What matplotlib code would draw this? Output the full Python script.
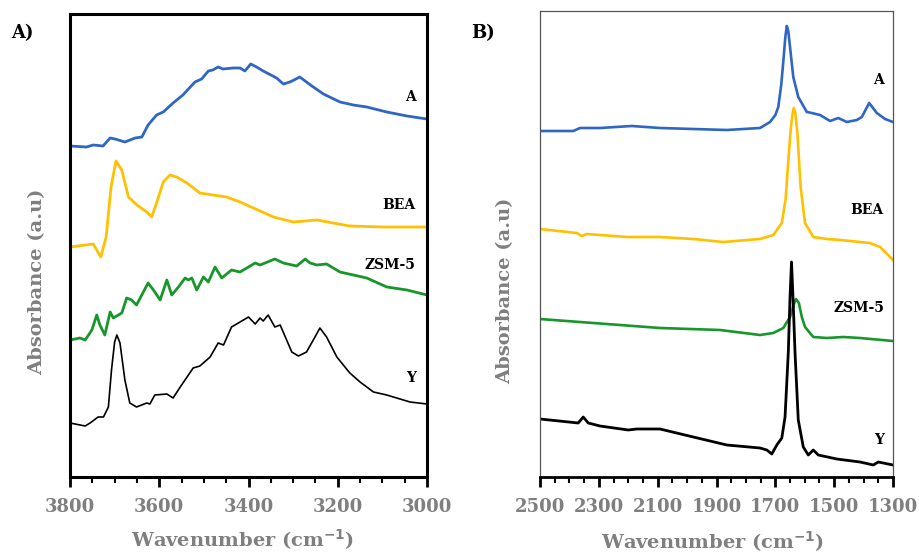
import numpy as np
import matplotlib
matplotlib.use("Agg")
import matplotlib.pyplot as plt
from matplotlib.ticker import FixedLocator

plt.rcParams['font.family'] = ['DejaVu Serif']

# ---- panel A data (3800-3000 cm-1), offset absorbance in a.u.
wnA_A = [3800, 3763, 3748, 3726, 3710, 3699, 3677, 3654, 3639, 3625, 3606, 3591, 3569, 3547, 3520,
         3505, 3490, 3480, 3468, 3457, 3435, 3419, 3408, 3395, 3382, 3367, 3337, 3322, 3307, 3285,
         3258, 3232, 3195, 3165, 3135, 3090, 3045, 3000]
absA_A = [331, 330, 332, 331, 339, 338, 335, 339, 340, 352, 362, 365, 374, 382, 395,
          398, 406, 407, 410, 408, 409, 409, 406, 413, 410, 406, 399, 393, 395, 400,
          391, 383, 375, 372, 370, 365, 361, 358]

wnA_BEA = [3800, 3748, 3731, 3719, 3708, 3697, 3684, 3669, 3650, 3628, 3617, 3606, 3591, 3576, 3561,
           3538, 3509, 3479, 3449, 3419, 3389, 3344, 3300, 3247, 3210, 3173, 3098, 3000]
absA_BEA = [230, 233, 220, 240, 290, 316, 307, 280, 272, 265, 260, 274, 295, 302, 300,
            294, 284, 282, 280, 275, 269, 260, 255, 257, 254, 251, 250, 250]

wnA_ZSM = [3800, 3778, 3766, 3751, 3740, 3733, 3722, 3710, 3703, 3684, 3673, 3662, 3651, 3625, 3613,
           3598, 3583, 3572, 3557, 3542, 3535, 3527, 3516, 3501, 3490, 3475, 3460, 3438, 3419, 3400,
           3385, 3374, 3363, 3341, 3322, 3292, 3273, 3262, 3247, 3225, 3195, 3165, 3135, 3090, 3045, 3000]
absA_ZSM = [137, 139, 137, 147, 162, 152, 142, 165, 159, 164, 179, 177, 172, 194, 187,
            177, 197, 182, 190, 199, 197, 199, 187, 200, 195, 210, 199, 207, 205, 210,
            214, 212, 214, 218, 214, 211, 218, 214, 212, 213, 205, 202, 199, 190, 187, 182]

wnA_Y = [3800, 3766, 3755, 3737, 3725, 3714, 3707, 3700, 3695, 3688, 3677, 3666, 3651, 3628, 3621, 3610,
         3583, 3569, 3553, 3524, 3509, 3486, 3468, 3456, 3438, 3419, 3400, 3385, 3374, 3367, 3356,
         3341, 3329, 3303, 3288, 3270, 3251, 3240, 3225, 3202, 3173, 3150, 3120, 3090, 3068, 3038, 3000]
absA_Y = [54, 51, 54, 60, 60, 70, 107, 135, 142, 134, 97, 74, 70, 74, 73, 82,
          83, 79, 90, 109, 111, 120, 134, 132, 150, 155, 160, 153, 159, 156, 162,
          150, 152, 125, 121, 125, 140, 149, 140, 120, 104, 95, 85, 82, 79, 75, 73]

# ---- panel B data (2500-1300 cm-1)
wnB_A = [2500, 2387, 2364, 2296, 2188, 2092, 1979, 1865, 1752, 1718, 1700, 1690, 1680, 1673, 1666,
         1661, 1656, 1650, 1639, 1622, 1593, 1576, 1548, 1514, 1486, 1457, 1423, 1406, 1381,
         1355, 1327, 1300]
absB_A = [346, 346, 349, 349, 351, 349, 348, 347, 349, 355, 362, 370, 392, 415, 440,
          451, 446, 430, 400, 380, 365, 364, 362, 356, 359, 355, 357, 360, 374,
          364, 358, 355]

wnB_BEA = [2500, 2375, 2358, 2341, 2205, 2092, 1979, 1877, 1752, 1707, 1678, 1665, 1655, 1647, 1641,
           1637, 1632, 1625, 1614, 1599, 1571, 1525, 1480, 1378, 1344, 1300]
absB_BEA = [248, 244, 241, 243, 240, 240, 238, 235, 238, 242, 254, 278, 320, 350, 364,
            369, 364, 344, 290, 254, 240, 238, 237, 234, 230, 217]

wnB_ZSM = [2500, 2319, 2092, 1888, 1752, 1707, 1673, 1650, 1638, 1630, 1620, 1610, 1599, 1571, 1525,
           1469, 1412, 1300]
absB_ZSM = [158, 154, 149, 147, 142, 144, 149, 160, 172, 178, 174, 160, 150, 140, 139,
            140, 139, 136]

wnB_Y = [2500, 2370, 2353, 2336, 2296, 2200, 2171, 2092, 1979, 1865, 1752, 1729, 1712, 1695, 1678,
         1667, 1656, 1650, 1645, 1640, 1633, 1622, 1605, 1588, 1571, 1554, 1491, 1412, 1367, 1350, 1300]
absB_Y = [58, 54, 60, 54, 51, 47, 48, 48, 40, 32, 29, 27, 23, 32, 39,
          60, 124, 180, 215, 180, 124, 57, 30, 22, 27, 22, 18, 15, 12, 15, 12]

names = ['A', 'BEA', 'ZSM-5', 'Y']
colors = ['#2E67C3', '#FFC000', '#17962B', 'black']
labelA_y = [380, 272, 212, 99]
labelB_y = [397, 267, 169, 37]
ticksA = [3800, 3600, 3400, 3200, 3000]
ticksB = [2500, 2300, 2100, 1900, 1700, 1500, 1300]

fig = plt.figure(figsize=(9.19, 5.55), dpi=100)
axA = fig.add_axes([70/919, 78/555, 357/919, 463/555])
axB = fig.add_axes([540/919, 78/555, 353/919, 466/555])

seriesA = [(wnA_A, absA_A), (wnA_BEA, absA_BEA), (wnA_ZSM, absA_ZSM), (wnA_Y, absA_Y)]
seriesB = [(wnB_A, absB_A), (wnB_BEA, absB_BEA), (wnB_ZSM, absB_ZSM), (wnB_Y, absB_Y)]
lwA = [2.0, 2.0, 2.0, 1.2]
lwB = [1.9, 1.9, 1.9, 2.0]

for (x, y), c, lw in zip(seriesA, colors, lwA):
    axA.plot(x, y, color=c, lw=lw)
for (x, y), c, lw in zip(seriesB, colors, lwB):
    axB.plot(x, y, color=c, lw=lw)

for n, ly in zip(names, labelA_y):
    axA.text(3025, ly, n, ha='right', va='center', fontsize=10, fontweight='bold')
for n, ly in zip(names, labelB_y):
    axB.text(1331, ly, n, ha='right', va='center', fontsize=10, fontweight='bold')

axA.set_xlim(3800, 3000)
axA.set_ylim(0, 463)
axB.set_xlim(2500, 1300)
axB.set_ylim(0, 466)

axA.set_xticks(ticksA)
axA.xaxis.set_minor_locator(FixedLocator(np.arange(3800, 2999, -50)))
axB.set_xticks(ticksB)
axB.xaxis.set_minor_locator(FixedLocator(np.arange(2500, 1299, -50)))

for ax in (axA, axB):
    ax.set_yticks([])
    ax.tick_params(axis='x', which='major', direction='out', length=7, width=2,
                   labelsize=13, labelcolor='#7f7f7f', pad=8)
    ax.tick_params(axis='x', which='minor', direction='out', length=4, width=1.5)
    for lab in ax.get_xticklabels():
        lab.set_fontweight('bold')

for s in axA.spines.values():
    s.set_linewidth(2.2)
    s.set_color('black')
for k, s in axB.spines.items():
    s.set_linewidth(0.9)
    s.set_color('#555555')
axB.spines['bottom'].set_linewidth(2.0)
axB.spines['bottom'].set_color('black')

gray = '#7f7f7f'
fig.text(37/919, 1 - 282/555, 'Absorbance (a.u)', rotation=90, ha='center', va='center',
         fontsize=14, fontweight='bold', color=gray)
fig.text(505/919, 1 - 291/555, 'Absorbance (a.u)', rotation=90, ha='center', va='center',
         fontsize=14, fontweight='bold', color=gray)
fig.text(243/919, 1 - 540/555, 'Wavenumber (cm$^{\\mathbf{-1}}$)', ha='center', va='center',
         fontsize=14, fontweight='bold', color=gray)
fig.text(713/919, 1 - 542/555, 'Wavenumber (cm$^{\\mathbf{-1}}$)', ha='center', va='center',
         fontsize=14, fontweight='bold', color=gray)
fig.text(22/919, 1 - 33/555, 'A)', ha='center', va='center', fontsize=13, fontweight='bold')
fig.text(483/919, 1 - 33/555, 'B)', ha='center', va='center', fontsize=13, fontweight='bold')

fig.savefig('out.png', dpi=100)
